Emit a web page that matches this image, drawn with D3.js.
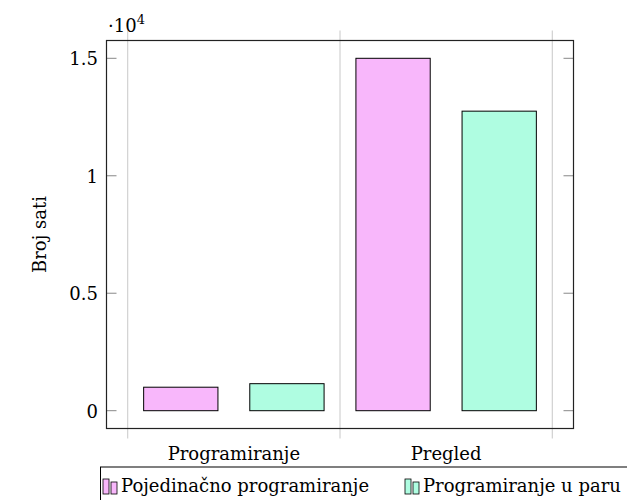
<!DOCTYPE html>
<html>
<head>
<meta charset="utf-8">
<script src="https://cdn.jsdelivr.net/npm/d3@7"></script>
<style>
  body { margin: 0; background: #fff; }
  text { font-family: "DejaVu Serif", serif; fill: #000; }
</style>
</head>
<body>
<div id="chart"></div>
<script>
// data
var categories = ["Programiranje", "Pregled"];
var series = ["Pojedinačno programiranje", "Programiranje u paru"];
var pojedinacno = [1000, 15000];
var uParu = [1150, 12750];
var yTicks = [0, 5000, 10000, 15000];
var colors = ["#f8b7fb", "#affde1"];

var width = 627, height = 500;
var box = { left: 106.5, right: 573.5, top: 40.5, bottom: 428.5 };
var fs = "18px";

var svg = d3.select("#chart").append("svg")
    .attr("width", width)
    .attr("height", height);

var x = d3.scaleLinear()
    .domain([-0.6, categories.length - 1 + 0.6])
    .range([box.left, box.right]);

var y = d3.scaleLinear()
    .domain([0, 15000])
    .range([410.7, 58.3]);

// grid lines at category boundaries (stick out of the box a bit)
var bounds = d3.range(categories.length + 1).map(function (i) { return i - 0.5; });
svg.selectAll(".grid")
    .data(bounds)
    .enter().append("line")
    .attr("x1", function (d) { return x(d); })
    .attr("x2", function (d) { return x(d); })
    .attr("y1", box.top - 10)
    .attr("y2", box.bottom + 10)
    .attr("stroke", "#c8c8c8")
    .attr("stroke-width", 1);

// bars
var barW = x(0.35) - x(0);
var allSeries = [pojedinacno, uParu];
var offsets = [-0.25, 0.25];
allSeries.forEach(function (vals, s) {
    svg.selectAll(".bar" + s)
        .data(vals)
        .enter().append("rect")
        .attr("x", function (d, i) { return x(i + offsets[s]) - barW / 2; })
        .attr("y", function (d) { return y(d); })
        .attr("width", barW)
        .attr("height", function (d) { return y(0) - y(d); })
        .attr("fill", colors[s])
        .attr("stroke", "#000")
        .attr("stroke-width", 1);
});

// y ticks, both sides inward
yTicks.forEach(function (t) {
    svg.append("line")
        .attr("x1", box.left).attr("x2", box.left + 10)
        .attr("y1", y(t)).attr("y2", y(t))
        .attr("stroke", "#888");
    svg.append("line")
        .attr("x1", box.right - 10).attr("x2", box.right)
        .attr("y1", y(t)).attr("y2", y(t))
        .attr("stroke", "#888");
    svg.append("text")
        .attr("x", 98)
        .attr("y", y(t) + 7)
        .attr("text-anchor", "end")
        .style("font-size", fs)
        .text(t / 10000);
});

// box
svg.append("rect")
    .attr("x", box.left).attr("y", box.top)
    .attr("width", box.right - box.left)
    .attr("height", box.bottom - box.top)
    .attr("fill", "none")
    .attr("stroke", "#222")
    .attr("stroke-width", 1.2);

// x labels
svg.selectAll(".xlab")
    .data(categories)
    .enter().append("text")
    .attr("x", function (d, i) { return x(i); })
    .attr("y", 460)
    .attr("text-anchor", "middle")
    .style("font-size", fs)
    .text(function (d) { return d; });

// scale marker
var sc = svg.append("text")
    .attr("x", 108)
    .attr("y", 32)
    .style("font-size", fs);
sc.append("tspan").text("·10");
sc.append("tspan").attr("dy", -8).style("font-size", "13px").text("4");

// y label
svg.append("text")
    .attr("transform", "translate(46," + y(7500) + ") rotate(-90)")
    .attr("text-anchor", "middle")
    .style("font-size", fs)
    .text("Broj sati");

// legend
svg.append("rect")
    .attr("x", 100.5).attr("y", 467)
    .attr("width", 540).attr("height", 50)
    .attr("fill", "#fff")
    .attr("stroke", "#000")
    .attr("stroke-width", 1);

var legX = [103, 405];
series.forEach(function (name, s) {
    var g = svg.append("g").attr("transform", "translate(" + legX[s] + ",0)");
    g.append("rect").attr("x", 0).attr("y", 479).attr("width", 6).attr("height", 15)
        .attr("fill", colors[s]).attr("stroke", "#000").attr("stroke-width", 0.8);
    g.append("rect").attr("x", 8).attr("y", 482).attr("width", 6).attr("height", 12)
        .attr("fill", colors[s]).attr("stroke", "#000").attr("stroke-width", 0.8);
    g.append("text")
        .attr("x", 18)
        .attr("y", 492)
        .style("font-size", fs)
        .text(name);
});
</script>
</body>
</html>
